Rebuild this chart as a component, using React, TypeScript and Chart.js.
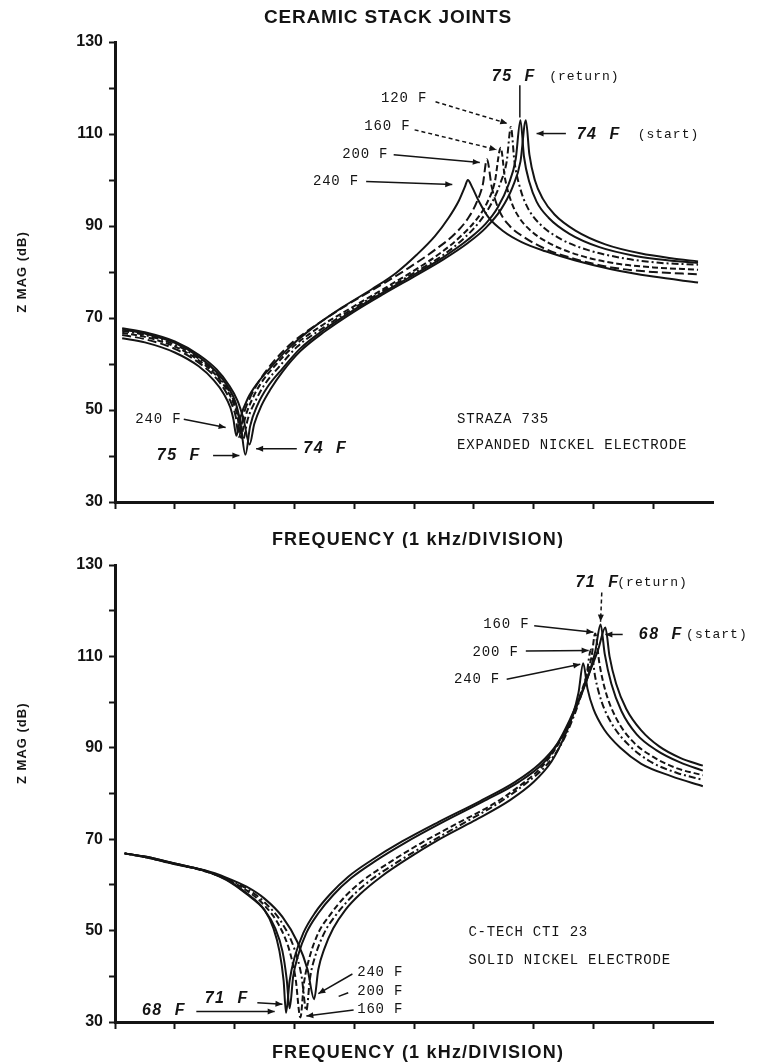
import React, { useEffect, useRef } from 'react';
import { Chart, registerables } from 'chart.js';
Chart.register(...registerables);

// ---------------- shared axis values ----------------
const yMin = 30;
const yMax = 130;
const yLabelValues = [30, 50, 70, 90, 110, 130];
const xDivisions = 10;
const xTickCount = 9;

// ---------------- top panel: STRAZA 735 ----------------
const s74X = [0.12, 0.5, 1.0, 1.4, 1.7, 1.9, 2.05, 2.15, 2.25, 2.33, 2.45, 2.6, 2.8, 3.1, 3.5, 4.0, 4.5, 5.0, 5.5, 5.9, 6.2, 6.45, 6.65, 6.78, 6.87, 6.93, 7.02, 7.15, 7.35, 7.7, 8.2, 8.8, 9.3, 9.75];
const s74Y = [67.8, 66.9, 64.9, 62.0, 58.8, 55.5, 52.0, 48.0, 42.5, 47.0, 51.0, 54.5, 58.3, 62.8, 67.0, 71.4, 75.3, 79.0, 82.8, 86.3, 89.6, 93.5, 98.5, 104.0, 113.0, 105.5, 100.0, 96.0, 92.5, 89.0, 86.0, 84.0, 83.0, 82.3];
const s75X = [0.12, 0.5, 1.0, 1.4, 1.7, 1.9, 2.02, 2.1, 2.18, 2.26, 2.38, 2.55, 2.8, 3.1, 3.5, 4.0, 4.5, 5.0, 5.5, 5.9, 6.2, 6.4, 6.58, 6.7, 6.78, 6.84, 6.93, 7.05, 7.25, 7.6, 8.1, 8.7, 9.2, 9.75];
const s75Y = [67.5, 66.6, 64.6, 61.6, 58.2, 54.8, 51.5, 47.0, 40.3, 46.5, 51.0, 55.0, 59.0, 63.4, 67.5, 71.8, 75.7, 79.4, 83.3, 87.0, 90.5, 94.0, 99.0, 104.5, 113.0, 105.0, 99.5, 95.3, 91.8, 88.3, 85.4, 83.5, 82.6, 82.0];
const s120X = [0.12, 0.5, 1.0, 1.4, 1.7, 1.9, 2.0, 2.08, 2.14, 2.22, 2.35, 2.5, 2.75, 3.05, 3.5, 4.0, 4.5, 5.0, 5.5, 5.85, 6.1, 6.3, 6.45, 6.55, 6.62, 6.68, 6.78, 6.9, 7.1, 7.45, 7.9, 8.5, 9.1, 9.75];
const s120Y = [67.2, 66.3, 64.2, 61.2, 57.8, 54.3, 51.5, 48.0, 43.5, 48.0, 52.0, 55.5, 59.5, 63.8, 68.0, 72.2, 76.0, 79.8, 83.8, 87.5, 91.0, 95.0, 99.5, 104.0, 111.5, 104.0, 98.0, 94.0, 90.5, 87.2, 84.8, 83.0, 82.0, 81.6];
const s160X = [0.12, 0.5, 1.0, 1.4, 1.7, 1.88, 1.98, 2.05, 2.1, 2.18, 2.3, 2.45, 2.7, 3.0, 3.45, 4.0, 4.5, 5.0, 5.45, 5.8, 6.05, 6.22, 6.35, 6.45, 6.52, 6.62, 6.75, 6.95, 7.3, 7.8, 8.4, 9.0, 9.75];
const s160Y = [66.8, 65.9, 63.8, 60.8, 57.4, 54.2, 51.5, 48.5, 44.0, 48.5, 52.5, 56.0, 60.0, 64.0, 68.3, 72.6, 76.4, 80.3, 84.2, 88.0, 91.5, 95.0, 99.5, 107.0, 100.5, 95.5, 92.0, 89.0, 86.0, 83.5, 81.8, 81.0, 80.5];
const s200X = [0.12, 0.5, 1.0, 1.4, 1.7, 1.86, 1.96, 2.02, 2.07, 2.15, 2.27, 2.42, 2.65, 2.95, 3.4, 3.9, 4.4, 4.9, 5.35, 5.7, 5.92, 6.06, 6.15, 6.22, 6.3, 6.42, 6.6, 6.85, 7.2, 7.7, 8.3, 9.0, 9.75];
const s200Y = [66.3, 65.4, 63.3, 60.3, 56.8, 53.8, 51.0, 48.5, 44.2, 49.0, 53.0, 56.5, 60.5, 64.5, 68.8, 73.0, 76.8, 80.8, 84.8, 88.5, 92.0, 95.5, 99.0, 104.5, 98.5, 93.5, 90.0, 87.5, 85.0, 82.8, 81.0, 80.0, 79.5];
const s240X = [0.12, 0.5, 1.0, 1.4, 1.65, 1.82, 1.93, 1.98, 2.03, 2.1, 2.22, 2.38, 2.6, 2.9, 3.3, 3.8, 4.3, 4.7, 5.05, 5.35, 5.58, 5.75, 5.85, 5.9, 5.97, 6.08, 6.25, 6.5, 6.8, 7.2, 7.7, 8.3, 9.0, 9.75];
const s240Y = [65.6, 64.7, 62.5, 59.5, 56.5, 53.5, 50.5, 48.0, 44.4, 48.5, 52.5, 55.8, 59.2, 63.4, 67.8, 72.3, 76.3, 79.8, 83.8, 87.8, 91.8, 95.5, 98.5, 100.0, 98.5, 95.5, 91.8, 88.8, 86.5, 84.5, 82.5, 80.6, 79.0, 77.7];

// ---------------- bottom panel: C-TECH CTI 23 ----------------
const c68X = [0.16, 0.5, 1.0, 1.5, 1.86, 2.2, 2.5, 2.65, 2.75, 2.82, 2.86, 2.92, 3.0, 3.15, 3.35, 3.6, 3.9, 4.3, 4.8, 5.4, 6.1, 6.7, 7.1, 7.4, 7.6, 7.8, 7.95, 8.08, 8.2, 8.27, 8.38, 8.55, 8.8, 9.1, 9.45, 9.83];
const c68Y = [66.9, 66.2, 64.7, 63.1, 61.2, 58.2, 54.5, 50.5, 45.5, 39.0, 32.0, 39.0, 44.0, 49.5, 54.0, 58.0, 61.8, 65.5, 69.5, 73.7, 78.3, 82.6, 86.5, 91.0, 96.0, 102.0, 107.0, 111.5, 116.3, 110.0, 104.0, 98.5, 93.8, 90.3, 87.8, 86.1];
const c71X = [0.16, 0.5, 1.0, 1.5, 1.86, 2.2, 2.5, 2.68, 2.8, 2.87, 2.92, 2.98, 3.06, 3.2, 3.4, 3.65, 3.95, 4.35, 4.85, 5.45, 6.15, 6.75, 7.15, 7.4, 7.6, 7.78, 7.92, 8.03, 8.12, 8.19, 8.3, 8.47, 8.72, 9.05, 9.45, 9.83];
const c71Y = [66.9, 66.2, 64.7, 63.1, 61.1, 58.0, 54.5, 50.5, 45.5, 39.5, 33.0, 40.0, 44.5, 49.5, 53.8, 57.8, 61.5, 65.2, 69.2, 73.5, 78.2, 82.5, 86.5, 90.8, 95.5, 101.0, 106.0, 111.0, 117.0, 110.5, 104.0, 98.0, 93.0, 89.5, 86.8, 85.0];
const c160X = [0.16, 0.5, 1.0, 1.5, 1.86, 2.2, 2.5, 2.75, 2.92, 3.02, 3.1, 3.16, 3.25, 3.4, 3.6, 3.85, 4.15, 4.6, 5.1, 5.7, 6.3, 6.8, 7.15, 7.4, 7.6, 7.75, 7.88, 7.97, 8.03, 8.1, 8.2, 8.38, 8.65, 9.0, 9.4, 9.83];
const c160Y = [66.9, 66.1, 64.6, 63.0, 61.3, 58.8, 55.5, 51.0, 45.5, 39.5, 31.0, 38.5, 44.0, 49.5, 53.5, 57.5, 61.0, 65.0, 69.0, 73.3, 77.5, 82.0, 86.0, 90.5, 95.5, 100.5, 105.5, 110.0, 115.0, 108.5, 102.5, 96.5, 91.5, 88.0, 85.5, 84.0];
const c200X = [0.16, 0.5, 1.0, 1.5, 1.86, 2.2, 2.5, 2.8, 3.0, 3.12, 3.2, 3.26, 3.35, 3.5, 3.7, 3.95, 4.25, 4.7, 5.2, 5.8, 6.4, 6.85, 7.2, 7.45, 7.63, 7.77, 7.88, 7.96, 8.03, 8.14, 8.32, 8.6, 8.95, 9.4, 9.83];
const c200Y = [66.9, 66.1, 64.6, 63.1, 61.4, 59.2, 56.2, 51.5, 46.0, 40.0, 32.5, 39.5, 44.5, 49.5, 53.5, 57.3, 60.8, 64.8, 68.8, 73.3, 77.8, 82.0, 86.0, 90.5, 95.5, 100.5, 105.5, 111.5, 105.5, 100.0, 95.0, 90.5, 87.0, 84.5, 83.0];
const c240X = [0.16, 0.5, 1.0, 1.5, 1.86, 2.2, 2.5, 2.8, 3.05, 3.22, 3.33, 3.4, 3.5, 3.65, 3.85, 4.1, 4.45, 4.9, 5.4, 6.0, 6.6, 7.0, 7.3, 7.5, 7.65, 7.75, 7.83, 7.9, 8.0, 8.18, 8.45, 8.8, 9.3, 9.83];
const c240Y = [66.9, 66.1, 64.5, 63.2, 61.6, 59.6, 57.0, 53.0, 47.5, 41.5, 35.0, 41.5, 46.0, 50.5, 54.5, 58.0, 61.8, 65.8, 69.8, 74.0, 78.5, 82.5, 87.0, 92.0, 97.0, 102.0, 108.5, 103.0, 98.5, 94.0, 90.0, 86.5, 83.8, 81.6];

// ---------------- annotations (data coordinates) ----------------
type Label = { t: string; x: number; y: number; s: 'type' | 'hand' | 'small' };
type Arrow = { x1: number; y1: number; x2: number; y2: number; dash?: boolean; head?: boolean };

const strazaLabels: Label[] = [
  { t: '75 F', x: 6.3, y: 122.4, s: 'hand' },
  { t: '(return)', x: 7.26, y: 122.4, s: 'small' },
  { t: '120 F', x: 4.45, y: 117.7, s: 'type' },
  { t: '160 F', x: 4.17, y: 111.6, s: 'type' },
  { t: '200 F', x: 3.8, y: 105.5, s: 'type' },
  { t: '240 F', x: 3.31, y: 99.7, s: 'type' },
  { t: '74 F', x: 7.72, y: 109.9, s: 'hand' },
  { t: '(start)', x: 8.74, y: 109.9, s: 'small' },
  { t: '240 F', x: 0.34, y: 48.0, s: 'type' },
  { t: '75 F', x: 0.7, y: 40.1, s: 'hand' },
  { t: '74 F', x: 3.15, y: 41.6, s: 'hand' },
  { t: 'STRAZA 735', x: 5.72, y: 48.0, s: 'type' },
  { t: 'EXPANDED NICKEL ELECTRODE', x: 5.72, y: 42.3, s: 'type' },
];
const strazaArrows: Arrow[] = [
  { x1: 6.77, y1: 120.6, x2: 6.77, y2: 113.6 },
  { x1: 5.36, y1: 117.0, x2: 6.56, y2: 112.3, dash: true, head: true },
  { x1: 5.01, y1: 110.9, x2: 6.38, y2: 106.6, dash: true, head: true },
  { x1: 4.66, y1: 105.5, x2: 6.1, y2: 103.8, head: true },
  { x1: 4.2, y1: 99.7, x2: 5.64, y2: 99.0, head: true },
  { x1: 7.54, y1: 110.1, x2: 7.05, y2: 110.1, head: true },
  { x1: 1.15, y1: 48.0, x2: 1.85, y2: 46.2, head: true },
  { x1: 1.64, y1: 40.1, x2: 2.08, y2: 40.1, head: true },
  { x1: 3.04, y1: 41.6, x2: 2.36, y2: 41.6, head: true },
];

const ctechLabels: Label[] = [
  { t: '71 F', x: 7.7, y: 126.1, s: 'hand' },
  { t: '(return)', x: 8.4, y: 126.1, s: 'small' },
  { t: '160 F', x: 6.16, y: 117.0, s: 'type' },
  { t: '68 F', x: 8.76, y: 114.8, s: 'hand' },
  { t: '(start)', x: 9.55, y: 114.8, s: 'small' },
  { t: '200 F', x: 5.98, y: 111.0, s: 'type' },
  { t: '240 F', x: 5.67, y: 105.0, s: 'type' },
  { t: 'C-TECH CTI 23', x: 5.91, y: 49.6, s: 'type' },
  { t: 'SOLID NICKEL ELECTRODE', x: 5.91, y: 43.6, s: 'type' },
  { t: '240 F', x: 4.05, y: 40.9, s: 'type' },
  { t: '200 F', x: 4.05, y: 36.8, s: 'type' },
  { t: '160 F', x: 4.05, y: 32.8, s: 'type' },
  { t: '68 F', x: 0.45, y: 32.6, s: 'hand' },
  { t: '71 F', x: 1.5, y: 35.2, s: 'hand' },
];
const ctechArrows: Arrow[] = [
  { x1: 8.14, y1: 124.0, x2: 8.12, y2: 117.6, dash: true, head: true },
  { x1: 7.01, y1: 116.7, x2: 8.0, y2: 115.3, head: true },
  { x1: 8.49, y1: 114.8, x2: 8.2, y2: 114.8, head: true },
  { x1: 6.87, y1: 111.2, x2: 7.92, y2: 111.3, head: true },
  { x1: 6.55, y1: 105.0, x2: 7.78, y2: 108.3, head: true },
  { x1: 3.97, y1: 40.5, x2: 3.4, y2: 36.2, head: true },
  { x1: 3.9, y1: 36.4, x2: 3.74, y2: 35.6 },
  { x1: 3.99, y1: 32.6, x2: 3.2, y2: 31.3, head: true },
  { x1: 1.36, y1: 32.3, x2: 2.67, y2: 32.3, head: true },
  { x1: 2.38, y1: 34.2, x2: 2.8, y2: 33.9, head: true },
];

const INK = '#141414';
const SANS = '"Liberation Sans", Arial, sans-serif';
const MONO = '"Liberation Mono", "Courier New", monospace';

const pts = (xs: number[], ys: number[]) => xs.map((v, i) => ({ x: v, y: ys[i] }));

type Series = { name: string; xs: number[]; ys: number[]; dash: number[] };

const topSeries: Series[] = [
  { name: '74 F (start)', xs: s74X, ys: s74Y, dash: [] },
  { name: '75 F (return)', xs: s75X, ys: s75Y, dash: [] },
  { name: '120 F', xs: s120X, ys: s120Y, dash: [7, 3, 2, 3] },
  { name: '160 F', xs: s160X, ys: s160Y, dash: [6, 3] },
  { name: '200 F', xs: s200X, ys: s200Y, dash: [9, 4] },
  { name: '240 F', xs: s240X, ys: s240Y, dash: [] },
];
const bottomSeries: Series[] = [
  { name: '68 F (start)', xs: c68X, ys: c68Y, dash: [] },
  { name: '71 F (return)', xs: c71X, ys: c71Y, dash: [] },
  { name: '160 F', xs: c160X, ys: c160Y, dash: [6, 3] },
  { name: '200 F', xs: c200X, ys: c200Y, dash: [7, 3, 2, 3] },
  { name: '240 F', xs: c240X, ys: c240Y, dash: [] },
];

function annotPlugin(labels: Label[], arrows: Arrow[], extra: {
  title?: string; xTitleY: number; yTitleValue: number;
}) {
  return {
    id: 'annot',
    afterDraw(chart: any) {
      const { ctx, chartArea } = chart;
      const xs = chart.scales.x;
      const ys = chart.scales.y;
      ctx.save();
      ctx.fillStyle = INK;
      ctx.strokeStyle = INK;
      for (const a of arrows) {
        const x1 = xs.getPixelForValue(a.x1);
        const y1 = ys.getPixelForValue(a.y1);
        const x2 = xs.getPixelForValue(a.x2);
        const y2 = ys.getPixelForValue(a.y2);
        ctx.lineWidth = 1.5;
        ctx.setLineDash(a.dash ? [4, 3] : []);
        ctx.beginPath();
        ctx.moveTo(x1, y1);
        ctx.lineTo(x2, y2);
        ctx.stroke();
        ctx.setLineDash([]);
        if (a.head) {
          const ang = Math.atan2(y2 - y1, x2 - x1);
          const L = 7;
          const W = 3;
          ctx.beginPath();
          ctx.moveTo(x2, y2);
          ctx.lineTo(x2 - L * Math.cos(ang) + W * Math.sin(ang), y2 - L * Math.sin(ang) - W * Math.cos(ang));
          ctx.lineTo(x2 - L * Math.cos(ang) - W * Math.sin(ang), y2 - L * Math.sin(ang) + W * Math.cos(ang));
          ctx.closePath();
          ctx.fill();
        }
      }
      ctx.textBaseline = 'middle';
      ctx.textAlign = 'left';
      for (const l of labels) {
        (ctx as any).wordSpacing = '0px';
        if (l.s === 'hand') {
          ctx.font = `italic bold 16px ${SANS}`;
          (ctx as any).letterSpacing = '1.5px';
          (ctx as any).wordSpacing = '6px';
        } else if (l.s === 'small') {
          ctx.font = `13px ${MONO}`;
          (ctx as any).letterSpacing = '1px';
        } else {
          ctx.font = `14px ${MONO}`;
          (ctx as any).letterSpacing = '0.8px';
        }
        ctx.fillText(l.t, xs.getPixelForValue(l.x), ys.getPixelForValue(l.y));
      }
      (ctx as any).wordSpacing = '0px';
      const cx = (chartArea.left + chartArea.right) / 2;
      ctx.font = `bold 18px ${SANS}`;
      (ctx as any).letterSpacing = '1.2px';
      ctx.textAlign = 'center';
      ctx.fillText('FREQUENCY (1 kHz/DIVISION)', cx + 4, extra.xTitleY);
      if (extra.title) {
        ctx.font = `bold 19px ${SANS}`;
        (ctx as any).letterSpacing = '0.8px';
        ctx.fillText(extra.title, cx - 26, 18);
      }
      ctx.save();
      ctx.translate(22, ys.getPixelForValue(extra.yTitleValue));
      ctx.rotate(-Math.PI / 2);
      ctx.font = `bold 13px ${SANS}`;
      (ctx as any).letterSpacing = '1px';
      ctx.fillText('Z MAG (dB)', 0, 0);
      ctx.restore();
      ctx.restore();
    },
  };
}

function buildConfig(series: Series[], padTop: number, xAxisHeight: number, plugin: any): any {
  return {
    type: 'line',
    data: {
      datasets: series.map((s) => ({
        label: s.name,
        data: pts(s.xs, s.ys),
        borderColor: INK,
        borderWidth: 2,
        borderDash: s.dash,
        pointRadius: 0,
        fill: false,
        cubicInterpolationMode: 'monotone',
      })),
    },
    options: {
      animation: false,
      responsive: false,
      events: [],
      layout: { padding: { top: padTop, right: 49, left: 0, bottom: 0 } },
      plugins: {
        legend: { display: false },
        tooltip: { enabled: false },
        title: { display: false },
      },
      scales: {
        x: {
          type: 'linear',
          min: 0,
          max: xDivisions,
          afterFit: (s: any) => { s.height = xAxisHeight; },
          afterBuildTicks: (s: any) => { s.ticks = s.ticks.filter((t: any) => t.value <= xTickCount); },
          ticks: { stepSize: 1, display: false },
          grid: { drawOnChartArea: false, drawTicks: true, tickLength: 7, tickWidth: 2, tickColor: INK },
          border: { display: true, color: INK, width: 3 },
        },
        y: {
          type: 'linear',
          min: yMin,
          max: yMax,
          afterFit: (s: any) => { s.width = 115; },
          ticks: {
            stepSize: 10,
            color: INK,
            padding: 6,
            font: { family: SANS, weight: 'bold', size: 16 },
            callback: (v: number) => (yLabelValues.includes(v) ? String(v) : ''),
          },
          grid: { drawOnChartArea: false, drawTicks: true, tickLength: 6, tickWidth: 2, tickColor: INK },
          border: { display: true, color: INK, width: 3 },
        },
      },
    },
    plugins: [plugin],
  };
}

export default function App() {
  const topRef = useRef<HTMLCanvasElement>(null);
  const botRef = useRef<HTMLCanvasElement>(null);
  useEffect(() => {
    const c1 = new Chart(
      topRef.current as HTMLCanvasElement,
      buildConfig(topSeries, 42, 46, annotPlugin(strazaLabels, strazaArrows, {
        title: 'CERAMIC STACK JOINTS', xTitleY: 540, yTitleValue: 80,
      }))
    );
    const c2 = new Chart(
      botRef.current as HTMLCanvasElement,
      buildConfig(bottomSeries, 17, 41, annotPlugin(ctechLabels, ctechArrows, {
        xTitleY: 505, yTitleValue: 91,
      }))
    );
    return () => { c1.destroy(); c2.destroy(); };
  }, []);
  return (
    <div style={{ position: 'absolute', left: 0, top: 0, width: 762, height: 1063, background: '#fff' }}>
      <canvas ref={topRef} width={762} height={548} style={{ position: 'absolute', left: 0, top: 0 }} />
      <canvas ref={botRef} width={762} height={515} style={{ position: 'absolute', left: 0, top: 548 }} />
    </div>
  );
}
